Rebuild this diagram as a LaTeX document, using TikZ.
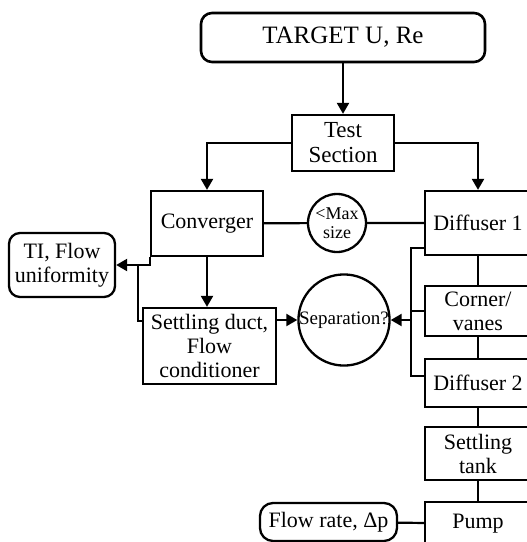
\documentclass[tikz,border=0pt]{standalone}
\usepackage{fontspec}
\setmainfont{Liberation Serif}
\usetikzlibrary{arrows.meta}

\tikzset{
  blk/.style={draw, line width=2.3pt, align=center, inner sep=2pt,
    font=\fontsize{22}{24}\selectfont},
  rblk/.style={blk, rounded corners=11pt},
  crc/.style={draw, circle, line width=2.3pt, align=center, inner sep=0pt},
  arr/.style={-{Triangle[length=11pt,width=12pt]}},
}

\begin{document}
\begin{tikzpicture}[x=1pt,y=-1pt,line width=2.2pt]
    \useasboundingbox (0,0) rectangle (527,542);
    %
    \node[rblk, line width=2.6pt, minimum width=284pt, minimum height=49pt,
      font=\fontsize{25}{27}\selectfont] (target) at (343,37.5) {TARGET U, Re};
    \node[blk, minimum width=102pt, minimum height=56pt,
      font=\fontsize{23}{25}\selectfont] (test) at (343,143) {Test\\Section};
    \node[blk, minimum width=112pt, minimum height=65pt] (conv) at (207,223.5) {Converger};
    \node[crc, minimum size=58pt, font=\fontsize{18}{19}\selectfont] (maxs) at (337,223) {\textless Max\\size};
    \node[rblk, minimum width=106pt, minimum height=64pt] (ti) at (62,265) {TI, Flow\\uniformity};
    \node[blk, minimum width=133pt, minimum height=76pt] (settle) at (209.5,346) {Settling duct,\\Flow\\conditioner};
    \node[crc, minimum size=90pt, font=\fontsize{19}{20}\selectfont] (sep) at (344,320) {Separation?};
    %
    \node[blk, minimum width=106pt, minimum height=64pt] (diff1) at (478,223) {Diffuser 1};
    \node[blk, minimum width=106pt, minimum height=50pt] (corner) at (478,311) {Corner/\\vanes};
    \node[blk, minimum width=106pt, minimum height=48pt] (diff2) at (478,383) {Diffuser 2};
    \node[blk, minimum width=106pt, minimum height=53pt] (tank) at (478,453.5) {Settling\\tank};
    \node[blk, minimum width=106pt, minimum height=43pt] (pump) at (478,523.5) {Pump};
    \node[rblk, rounded corners=13pt, minimum width=137pt, minimum height=38pt] (flow) at (328.5,522) {Flow rate, Δp};
    %
    \draw[arr] (target) -- (test);
    \draw[arr] (test.west) -| (conv.north);
    \draw[arr] (test.east) -| (diff1.north);
    \draw (conv) -- (maxs) -- (diff1);
    \draw[arr] (conv.south) -- (conv.south |- settle.north);
    \draw[arr] (conv.south west) |- (ti.east);
    \coordinate (tij) at (138,265);
    \draw ([yshift=-14pt]settle.north west) -| (tij);
    \draw[arr] (settle.east |- sep.west) -- (sep.west);
    %
    \draw ([yshift=8pt]diff1.south west) -- ++(-13,0) coordinate (bt) |- ([yshift=-18pt]diff2.north west);
    \draw (corner.west) -- (bt |- corner.west);
    \draw[arr] (bt |- sep.east) -- (sep.east);
    \draw (diff1) -- (corner) -- (diff2) -- (tank) -- (pump);
    \draw (flow) -- (pump);
\end{tikzpicture}
\end{document}
